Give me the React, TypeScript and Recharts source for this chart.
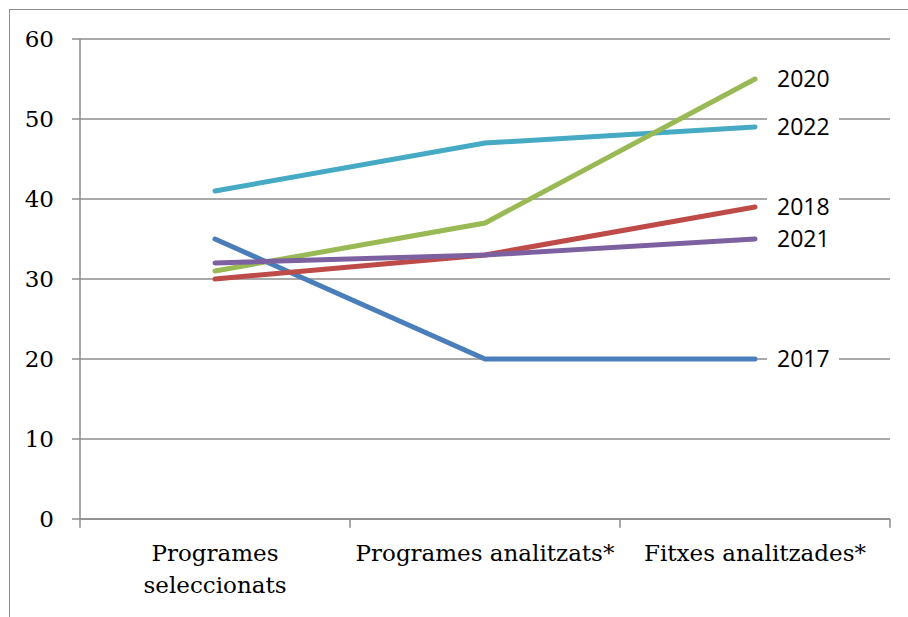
import React from 'react';
import {
  LineChart,
  Line,
  XAxis,
  YAxis,
  CartesianGrid,
  LabelList,
  ReferenceLine,
} from 'recharts';

// Category labels, already split into the lines they are drawn on
const categories = ['Programes seleccionats', 'Programes analitzats*', 'Fitxes analitzades*'];
const categoryLines = [['Programes', 'seleccionats'], ['Programes analitzats*'], ['Fitxes analitzades*']];

const yTicks = [0, 10, 20, 30, 40, 50, 60];

// small marks under the x axis at the category boundaries
const edgeMarks: { cat: string; position: 'start' | 'end' }[] = [
  { cat: categories[0], position: 'start' },
  { cat: categories[1], position: 'start' },
  { cat: categories[2], position: 'start' },
  { cat: categories[2], position: 'end' },
];
const EDGE_MARK_DEPTH = -1.1; // in y units, just below zero

// One array per year, drawn back to front
const years = ['2017', '2018', '2022', '2020', '2021'];
const values2017 = [35, 20, 20];
const values2018 = [30, 33, 39];
const values2020 = [31, 37, 55];
const values2021 = [32, 33, 35];
const values2022 = [41, 47, 49];

const colors: Record<string, string> = {
  '2017': '#4a7ebb',
  '2018': '#be4b48',
  '2020': '#98b954',
  '2021': '#7d60a0',
  '2022': '#46aac5',
};

const seriesValues: Record<string, number[]> = {
  '2017': values2017,
  '2018': values2018,
  '2020': values2020,
  '2021': values2021,
  '2022': values2022,
};

const chartData = categories.map((name, i) => {
  const row: Record<string, string | number> = { name };
  years.forEach(y => {
    row[y] = seriesValues[y][i];
  });
  return row;
});

const GRID = '#8c8c8c';
const SERIF = '"DejaVu Serif", Cambria, serif';

const CategoryTick = ({ x, y, payload }: any) => {
  const idx = categories.indexOf(payload.value);
  const lines = categoryLines[idx] || [payload.value];
  return (
    <text
      x={x}
      y={y}
      textAnchor="middle"
      fill="#000"
      fontSize={23}
      fontFamily={SERIF}
    >
      {lines.map((line, i) => (
        <tspan key={i} x={x} dy={i === 0 ? 34 : 32}>
          {line}
        </tspan>
      ))}
    </text>
  );
};

// Year name at the end of each line, on a white patch over the grid
const endLabel = (name: string) => (props: any) => {
  const { x, y, index } = props;
  if (index !== categories.length - 1) return null;
  return (
    <g>
      <rect x={x + 12} y={y - 12} width={72} height={26} fill="#fff" />
      <text
        x={x + 22}
        y={y + 2}
        dominantBaseline="middle"
        fontSize={23}
        fontFamily='"Open Sans", Calibri, sans-serif'
        fill="#000"
      >
        {name}
      </text>
    </g>
  );
};

export default function App() {
  return (
    <div style={{ position: 'absolute', left: 0, top: 0, width: 908, height: 617, background: '#fff' }}>
      <div
        style={{
          position: 'absolute',
          left: 9,
          top: 9,
          width: 920,
          height: 640,
          borderLeft: `1.5px solid ${GRID}`,
          borderTop: `1.5px solid ${GRID}`,
        }}
      />
      <LineChart
        width={908}
        height={617}
        data={chartData}
        margin={{ top: 39, right: 18, bottom: 0, left: 0 }}
        style={{ position: 'absolute', left: 0, top: 0 }}
      >
        <CartesianGrid vertical={false} stroke={GRID} strokeWidth={1.5} />
        <XAxis
          dataKey="name"
          scale="band"
          tickLine={false}
          axisLine={{ stroke: GRID, strokeWidth: 1.5 }}
          tick={<CategoryTick />}
          interval={0}
          height={98}
        />
        <YAxis
          domain={[0, 60]}
          ticks={yTicks}
          width={80}
          tickSize={8}
          tickMargin={18}
          axisLine={{ stroke: GRID, strokeWidth: 1.5 }}
          tickLine={{ stroke: GRID, strokeWidth: 1.5 }}
          tick={{ fill: '#000', fontSize: 23, fontFamily: SERIF }}
        />
        {edgeMarks.map((m, i) => (
          <ReferenceLine
            key={i}
            segment={[
              { x: m.cat, y: 0 },
              { x: m.cat, y: EDGE_MARK_DEPTH },
            ]}
            position={m.position}
            ifOverflow="visible"
            stroke={GRID}
            strokeWidth={1.5}
          />
        ))}
        {years.map(year => (
          <Line
            key={year}
            dataKey={year}
            type="linear"
            stroke={colors[year]}
            strokeWidth={5}
            strokeLinecap="round"
            dot={false}
            activeDot={false}
            isAnimationActive={false}
          >
            <LabelList dataKey={year} content={endLabel(year)} />
          </Line>
        ))}
      </LineChart>
    </div>
  );
}
